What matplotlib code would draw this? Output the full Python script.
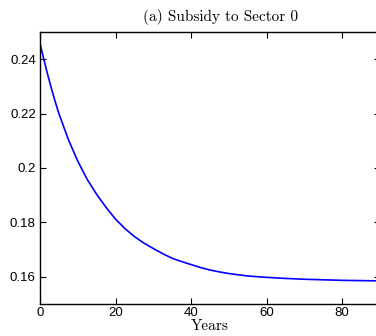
import numpy as np
import matplotlib
matplotlib.use("Agg")
import matplotlib.pyplot as plt

# values
years = [0, 1, 2, 3, 4, 5, 7.5, 10, 12.5, 15, 17.5, 20, 22.5, 25, 27.5, 30,
         32.5, 35, 37.5, 40, 42.5, 45, 47.5, 50, 55, 60, 65, 70, 75, 80, 85, 90]
subsidy = [0.2458, 0.2400, 0.2345, 0.2293, 0.2245, 0.2200, 0.2105, 0.2025,
           0.1958, 0.1903, 0.1855, 0.1812, 0.1777, 0.1748, 0.1724, 0.1704,
           0.1685, 0.1668, 0.1656, 0.1645, 0.1634, 0.1625, 0.1618, 0.1612,
           0.1603, 0.1598, 0.1594, 0.1591, 0.1589, 0.1587, 0.1586, 0.1585]
xticks = [0, 20, 40, 60, 80]
yticks = [0.16, 0.18, 0.2, 0.22, 0.24]
ytick_labels = ['0.16', '0.18', '0.2', '0.22', '0.24']

fig = plt.figure(figsize=(3.76, 3.36), dpi=100)
ax = fig.add_axes([0.1064, 0.0952, 0.904, 0.8096])
ax.plot(years, subsidy, color='#0000ff', lw=1.2)

ax.set_xlim(0, 90)
ax.set_ylim(0.15, 0.25)
ax.set_xticks(xticks)
ax.set_yticks(yticks)
ax.set_yticklabels(ytick_labels)
ax.tick_params(direction='in', length=4, width=0.8, top=True, right=True,
               labelsize=9.5, pad=3)
ax.tick_params(axis='x', pad=2)
for lab in ax.get_xticklabels() + ax.get_yticklabels():
    lab.set_family('Liberation Sans')
for s in ax.spines.values():
    s.set_linewidth(1.0)

ax.set_title('(a) Subsidy to Sector 0', family='cmr10', fontsize=11, x=0.53, pad=8)
ax.set_xlabel('Years', family='cmr10', fontsize=11, labelpad=0)

fig.savefig('out.png', dpi=100)
